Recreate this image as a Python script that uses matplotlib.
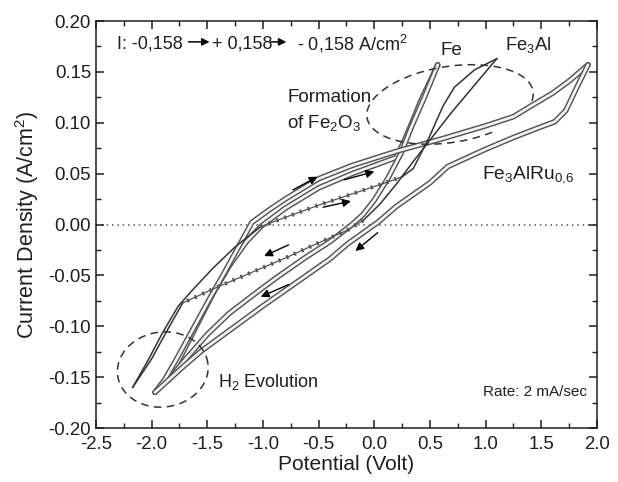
import numpy as np
import matplotlib.pyplot as plt
import matplotlib.patheffects as pe

plt.rcParams['font.family'] = ['Liberation Sans', 'DejaVu Sans']
plt.rcParams['mathtext.default'] = 'regular'

# --- galvanodynamic loops: potential (V) vs current density (A/cm2) ---
# Fe
fe_fwd_v = [-1.85, -1.75, -1.6, -1.45, -1.3, -1.15, -1.02, -0.8, -0.5, -0.2, 0.0, 0.2, 0.3, 0.42, 0.57]
fe_fwd_i = [-0.153, -0.132, -0.1, -0.068, -0.04, -0.017, -0.002, 0.016, 0.036, 0.05, 0.058, 0.066, 0.09, 0.122, 0.157]
fe_back_v = [0.57, 0.45, 0.33, 0.24, 0.12, 0.0, -0.1, -0.2, -0.4, -0.6, -0.85, -1.0, -1.3, -1.5, -1.7, -1.85]
fe_back_i = [0.157, 0.125, 0.095, 0.07, 0.045, 0.024, 0.01, 0.0, -0.017, -0.031, -0.05, -0.062, -0.087, -0.108, -0.133, -0.153]

# Fe3Al
fe3al_fwd_v = [-2.17, -2.03, -1.9, -1.76, -1.63, -1.45, -1.25, -1.02, -0.75, -0.5, -0.2, 0.1, 0.25,
               0.35, 0.42, 0.49, 0.55, 0.62, 0.72, 0.9, 1.1]
fe3al_fwd_i = [-0.16, -0.133, -0.106, -0.08, -0.064, -0.043, -0.022, -0.002, 0.009, 0.019, 0.03, 0.041, 0.047,
               0.055, 0.07, 0.085, 0.1, 0.117, 0.135, 0.152, 0.163]
fe3al_back_v = [1.1, 0.9, 0.7, 0.5, 0.35, 0.2, 0.05, -0.1, -0.25, -0.5, -0.8, -1.1, -1.4, -1.72,
                -1.85, -2.0, -2.17]
fe3al_back_i = [0.163, 0.137, 0.111, 0.083, 0.062, 0.04, 0.02, 0.004, -0.006, -0.018, -0.033, -0.047, -0.061, -0.077,
                -0.102, -0.132, -0.16]

# Fe3AlRu0.6
ru_fwd_v = [-1.97, -1.88, -1.78, -1.65, -1.5, -1.35, -1.2, -1.1, -0.95, -0.8, -0.5, -0.2, 0.2, 0.6, 1.0,
            1.25, 1.4, 1.6, 1.75, 1.92]
ru_fwd_i = [-0.165, -0.152, -0.133, -0.107, -0.077, -0.048, -0.018, 0.002, 0.014, 0.025, 0.045, 0.058, 0.072,
            0.084, 0.097, 0.106, 0.116, 0.129, 0.141, 0.157]
ru_back_v = [1.92, 1.82, 1.72, 1.62, 1.45, 1.26, 1.0, 0.84, 0.66, 0.5, 0.2, 0.03, -0.24, -0.4, -0.7, -1.0,
             -1.3, -1.55, -1.72, -1.97]
ru_back_i = [0.157, 0.135, 0.112, 0.101, 0.094, 0.086, 0.074, 0.066, 0.057, 0.041, 0.018, 0.002, -0.019, -0.034,
             -0.057, -0.08, -0.104, -0.124, -0.14, -0.165]

# sweep direction arrows (tail v, tail i, head v, head i)
arrows = [(-0.73, 0.034, -0.51, 0.047), (-0.27, 0.044, 0.0, 0.052), (-0.46, 0.017, -0.21, 0.023),
          (-0.77, -0.020, -0.99, -0.031), (-0.77, -0.059, -1.02, -0.071), (0.03, -0.008, -0.17, -0.026)]

PX_V = 111.3    # pixels per volt
PX_I = 1017.5   # pixels per A/cm2

fig = plt.figure(figsize=(6.18, 4.82), dpi=100)
ax = fig.add_axes([0.1553, 0.112, 0.8107, 0.8444])

gray = '#555555'
ink = '#1e1e1e'


def beads(v, i):
    # densely sampled curve drawn as an open tube of overlapping circles
    ax.plot(v, i, color='#f4f4f4', lw=1.9, solid_capstyle='round', zorder=3,
            path_effects=[pe.Stroke(linewidth=4.0, foreground=gray), pe.Normal()])


def thin(v, i):
    ax.plot(v, i, color='#333333', lw=1.1, zorder=3)


def crosses(v, i):
    ax.plot(v, i, color='#555555', lw=0.9, zorder=3)
    ax.plot(v, i, color='#555555', lw=3.0, dashes=(0.5, 1.5), zorder=3)


beads(fe_fwd_v, fe_fwd_i)
beads(fe_back_v, fe_back_i)
beads(ru_fwd_v, ru_fwd_i)
beads(ru_back_v, ru_back_i)

thin(fe3al_fwd_v[:8], fe3al_fwd_i[:8])
crosses(fe3al_fwd_v[7:13], fe3al_fwd_i[7:13])
thin(fe3al_fwd_v[12:], fe3al_fwd_i[12:])
thin(fe3al_back_v[:8], fe3al_back_i[:8])
crosses(fe3al_back_v[7:14], fe3al_back_i[7:14])
thin(fe3al_back_v[13:], fe3al_back_i[13:])

ax.axhline(0, color='#555555', lw=1.1, ls=(0, (1, 2.5)), zorder=1)

for tv, ti, hv, hi in arrows:
    ax.annotate('', xy=(hv, hi), xytext=(tv, ti),
                arrowprops=dict(arrowstyle='-|>', color='black', lw=1.0,
                                mutation_scale=12, shrinkA=0, shrinkB=0), zorder=5)


def dashed_ellipse(cx, cy, a, b, tilt, t0=0.0, t1=2 * np.pi):
    t = np.linspace(t0, t1, 300)
    th = np.radians(tilt)
    dx = a * np.cos(t) * np.cos(th) - b * np.sin(t) * np.sin(th)
    dy = a * np.cos(t) * np.sin(th) + b * np.sin(t) * np.cos(th)
    ax.plot(cx + dx / PX_V, cy + dy / PX_I, color='#333333', lw=1.1, ls=(0, (5, 3.5)), zorder=4)


dashed_ellipse(0.68, 0.118, 84, 38, 9, -0.25, 2 * np.pi - 1.1)
dashed_ellipse(-1.9, -0.1425, 45.5, 37.5, 8)

fs = 13
yl = 0.177
head = dict(arrowstyle='-|>', color='black', lw=1.1, mutation_scale=11, shrinkA=0, shrinkB=0)
ax.text(-2.31, yl, 'I: -0,158', fontsize=fs, va='center', color=ink)
ax.annotate('', xy=(-1.48, yl + 0.0025), xytext=(-1.67, yl + 0.0025), arrowprops=head)
ax.text(-1.458, yl, '+ 0,158', fontsize=fs, va='center', color=ink)
ax.annotate('', xy=(-0.79, yl + 0.0025), xytext=(-0.93, yl + 0.0025), arrowprops=head)
ax.text(-0.694, yl, '- 0,158 A/cm$^2$', fontsize=fs, va='center', color=ink)

ax.text(0.59, 0.171, 'Fe', fontsize=13.5, va='center', color=ink)
ax.text(1.17, 0.176, 'Fe$_3$Al', fontsize=13.2, va='center', color=ink)
ax.text(-0.78, 0.1245, 'Formation', fontsize=13.5, va='center', color=ink)
ax.text(-0.78, 0.100, 'of Fe$_2$O$_3$', fontsize=13.5, va='center', color=ink)
ax.text(0.97, 0.049, 'Fe$_3$AlRu$_{0,\\!6}$', fontsize=13.8, va='center', color=ink)
ax.text(-1.4, -0.155, 'H$_2$ Evolution', fontsize=13, va='center', color=ink)
ax.text(0.98, -0.165, 'Rate: 2 mA/sec', fontsize=11, va='center', color=ink)

xt = np.arange(-2.5, 2.01, 0.5)
yt = np.arange(-0.20, 0.201, 0.05)
ax.set_xlim(-2.5, 2.0)
ax.set_ylim(-0.20, 0.20)
ax.set_xticks(xt)
ax.set_yticks(yt)
ax.set_xticks(np.arange(-2.25, 2.0, 0.5), minor=True)
ax.set_yticks(np.arange(-0.175, 0.2, 0.05), minor=True)
ax.set_xticklabels([f'{abs(t) if abs(t) < 1e-9 else t:.1f}' for t in xt])
ax.set_yticklabels([f'{0.0 if abs(t) < 1e-9 else t:.2f}' for t in yt])
ax.tick_params(which='both', direction='in', top=True, right=True, labelsize=13.4, colors=ink)
ax.tick_params(axis='x', which='major', pad=6)
ax.tick_params(which='major', length=6, width=1.1)
ax.tick_params(which='minor', length=3.5, width=1.0)
for s in ax.spines.values():
    s.set_linewidth(1.1)
    s.set_color(ink)

ax.set_xlabel('Potential (Volt)', fontsize=15, color=ink, labelpad=1)
ax.set_ylabel('Current Density (A/cm$^2$)', fontsize=15.5, color=ink, labelpad=5)

fig.savefig('out.png', dpi=100)
